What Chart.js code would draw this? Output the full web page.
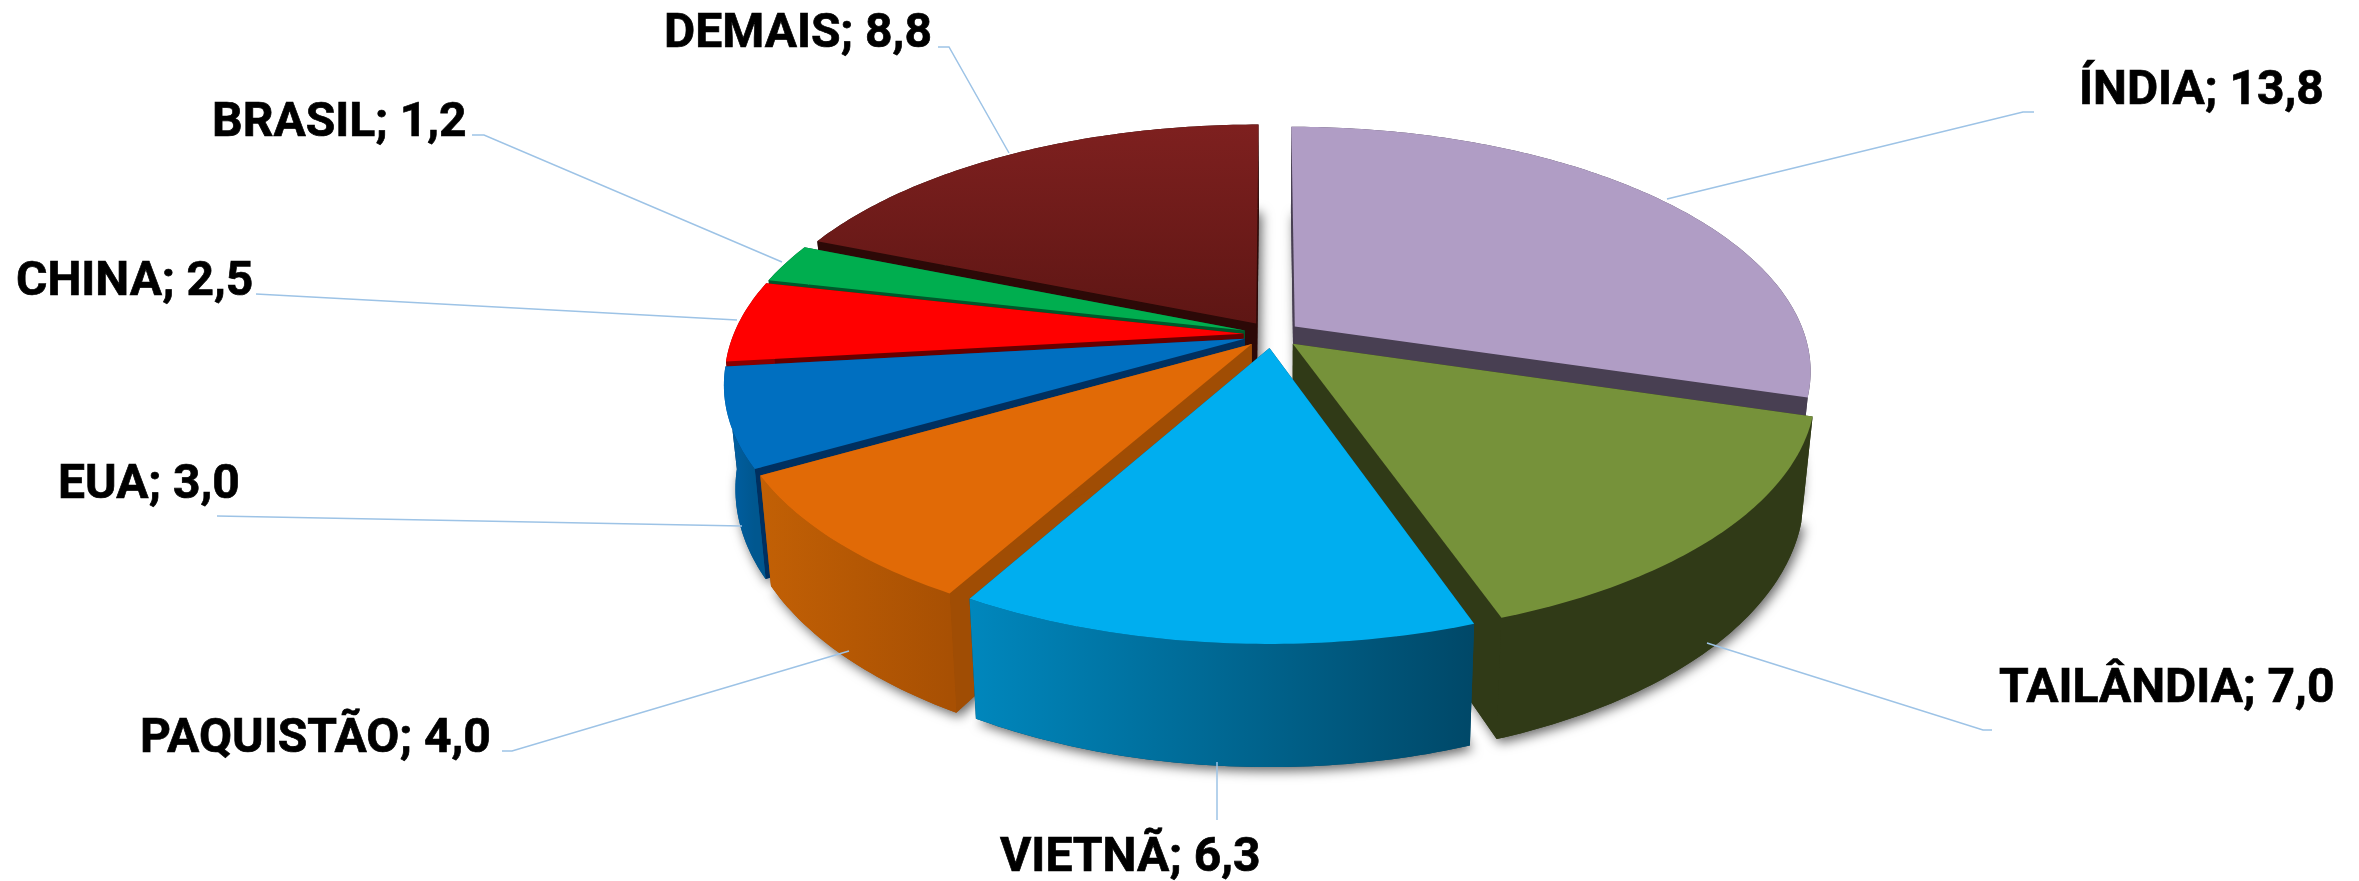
<!DOCTYPE html>
<html>
<head>
<meta charset="utf-8">
<title>Pizza 3D</title>
<script src="https://cdn.jsdelivr.net/npm/chart.js@4/dist/chart.umd.min.js"></script>
<style>
  html, body { margin: 0; padding: 0; background: #fff; }
  canvas { display: block; }
</style>
</head>
<body>
<canvas id="myChart" width="2359" height="881"></canvas>
<script>
"use strict";

const categories = ["ÍNDIA", "TAILÂNDIA", "VIETNÃ", "PAQUISTÃO", "EUA", "CHINA", "BRASIL", "DEMAIS"];
const values = [13.8, 7.0, 6.3, 4.0, 3.0, 2.5, 1.2, 8.8];

// cores: topo, lateral (esq -> dir), corte radial
const topColors = ["#b09dc5", "#76923a", "#00aeef", "#e16a06", "#006fc0", "#ff0000", "#00ae4f", "#7e201f"];
const topColorsEnd = ["#b09dc5", "#76923a", "#00aeef", "#e16a06", "#006fc0", "#ff0000", "#00ae4f", "#5e1614"];
const wallLeft = ["#483f52", "#303a17", "#0087bd", "#c26005", "#0060a6", "#8a0000", "#00582a", "#2c0907"];
const wallRight = ["#483f52", "#303a17", "#004868", "#a85003", "#00578f", "#8a0000", "#00582a", "#2c0907"];
const cutColors = ["#483f52", "#303a17", "#004868", "#a04d04", "#003060", "#660000", "#00582a", "#2c0907"];

// posição do texto (x esquerdo, linha de base) e linhas de chamada
const labelPos = [[2079, 104], [1999, 702], [1000, 871], [140, 752], [58, 498], [16, 295], [212, 136], [664, 47]];
const leaders = [
  [[1667, 199], [2023, 112], [2034, 112]],
  [[1707, 643], [1983, 730], [1992, 730]],
  [[1217, 762], [1217, 820]],
  [[849, 651], [512, 751], [502, 751]],
  [[742, 526], [217, 516]],
  [[737, 320], [256, 294]],
  [[782, 262], [484, 135], [472, 135]],
  [[1009, 153], [949, 47], [938, 47]]
];

// projeção em perspectiva do plano da pizza
const view = { cx: 1272, cy: 334.5, a: 510, b: 238, p: 0.178, depth: 100, shrink: 0.021 };

function project(u, v) {
  const w = 1 - view.p * v;
  return { x: view.cx + view.a * u / w, y: view.cy + view.b * v / w, w: w };
}

function lower(pt) {
  return { x: view.cx + (pt.x - view.cx) * (1 - view.shrink), y: pt.y + view.depth / pt.w };
}

function slicePoints(arc) {
  const mid = (arc.startAngle + arc.endAngle) / 2;
  const e = arc.options.offset / arc.outerRadius;
  const ex = Math.cos(mid) * e;
  const ey = Math.sin(mid) * e;
  const rim = [];
  const steps = Math.max(6, Math.ceil((arc.endAngle - arc.startAngle) / 0.015));
  for (let i = 0; i <= steps; i++) {
    const a = arc.startAngle + (arc.endAngle - arc.startAngle) * i / steps;
    rim.push(project(Math.cos(a) + ex, Math.sin(a) + ey));
  }
  return { apex: project(ex, ey), rim: rim, mid: mid };
}

function fillPath(ctx, pts, fill) {
  ctx.beginPath();
  pts.forEach((p, i) => (i ? ctx.lineTo(p.x, p.y) : ctx.moveTo(p.x, p.y)));
  ctx.closePath();
  ctx.fillStyle = fill;
  ctx.fill();
}

const pie3d = {
  id: "pie3d",
  beforeDatasetDraw(chart) {
    const ctx = chart.ctx;
    const arcs = chart.getDatasetMeta(0).data;
    const slices = arcs.map((arc, i) => Object.assign(slicePoints(arc), { i: i }));

    // sombra da base
    ctx.save();
    ctx.shadowColor = "rgba(0,0,0,0.6)";
    ctx.shadowBlur = 12;
    ctx.shadowOffsetX = 3;
    ctx.shadowOffsetY = 4;
    slices.forEach(s => {
      const base = [lower(s.apex)].concat(s.rim.map(lower));
      fillPath(ctx, base, wallRight[s.i]);
    });
    ctx.restore();

    // de trás para a frente
    slices.slice().sort((a, b) => Math.sin(a.mid) - Math.sin(b.mid)).forEach(s => {
      const first = s.rim[0];
      const last = s.rim[s.rim.length - 1];
      fillPath(ctx, [s.apex, first, lower(first), lower(s.apex)], cutColors[s.i]);
      fillPath(ctx, [s.apex, last, lower(last), lower(s.apex)], cutColors[s.i]);

      const xs = s.rim.map(p => p.x);
      const wall = ctx.createLinearGradient(Math.min(...xs), 0, Math.max(...xs), 0);
      wall.addColorStop(0, wallLeft[s.i]);
      wall.addColorStop(1, wallRight[s.i]);
      fillPath(ctx, s.rim.concat(s.rim.map(lower).reverse()), wall);

      const ys = s.rim.map(p => p.y).concat(s.apex.y);
      const top = ctx.createLinearGradient(0, Math.min(...ys), 0, Math.max(...ys));
      top.addColorStop(0, topColors[s.i]);
      top.addColorStop(1, topColorsEnd[s.i]);
      fillPath(ctx, [s.apex].concat(s.rim), top);
    });
    return false;
  },
  afterDatasetsDraw(chart) {
    const ctx = chart.ctx;
    ctx.save();
    ctx.strokeStyle = "#9dc3e6";
    ctx.lineWidth = 1.5;
    leaders.forEach(line => {
      ctx.beginPath();
      line.forEach((p, i) => (i ? ctx.lineTo(p[0], p[1]) : ctx.moveTo(p[0], p[1])));
      ctx.stroke();
    });
    ctx.fillStyle = "#000";
    ctx.strokeStyle = "#000";
    ctx.lineWidth = 0.7;
    ctx.font = "bold 48px Roboto";
    ctx.textAlign = "left";
    ctx.textBaseline = "alphabetic";
    categories.forEach((name, i) => {
      const text = name + "; " + values[i].toFixed(1).replace(".", ",");
      ctx.fillText(text, labelPos[i][0], labelPos[i][1]);
      ctx.strokeText(text, labelPos[i][0], labelPos[i][1]);
    });
    ctx.restore();
  }
};

new Chart(document.getElementById("myChart"), {
  type: "pie",
  data: {
    labels: categories,
    datasets: [
      {
        data: values,
        backgroundColor: topColors,
        borderWidth: 0,
        offset: 24,
      },
    ],
  },
  options: {
    responsive: false,
    animation: false,
    plugins: {
      legend: { display: false },
      tooltip: { enabled: false },
    },
  },
  plugins: [pie3d],
});
</script>
</body>
</html>
